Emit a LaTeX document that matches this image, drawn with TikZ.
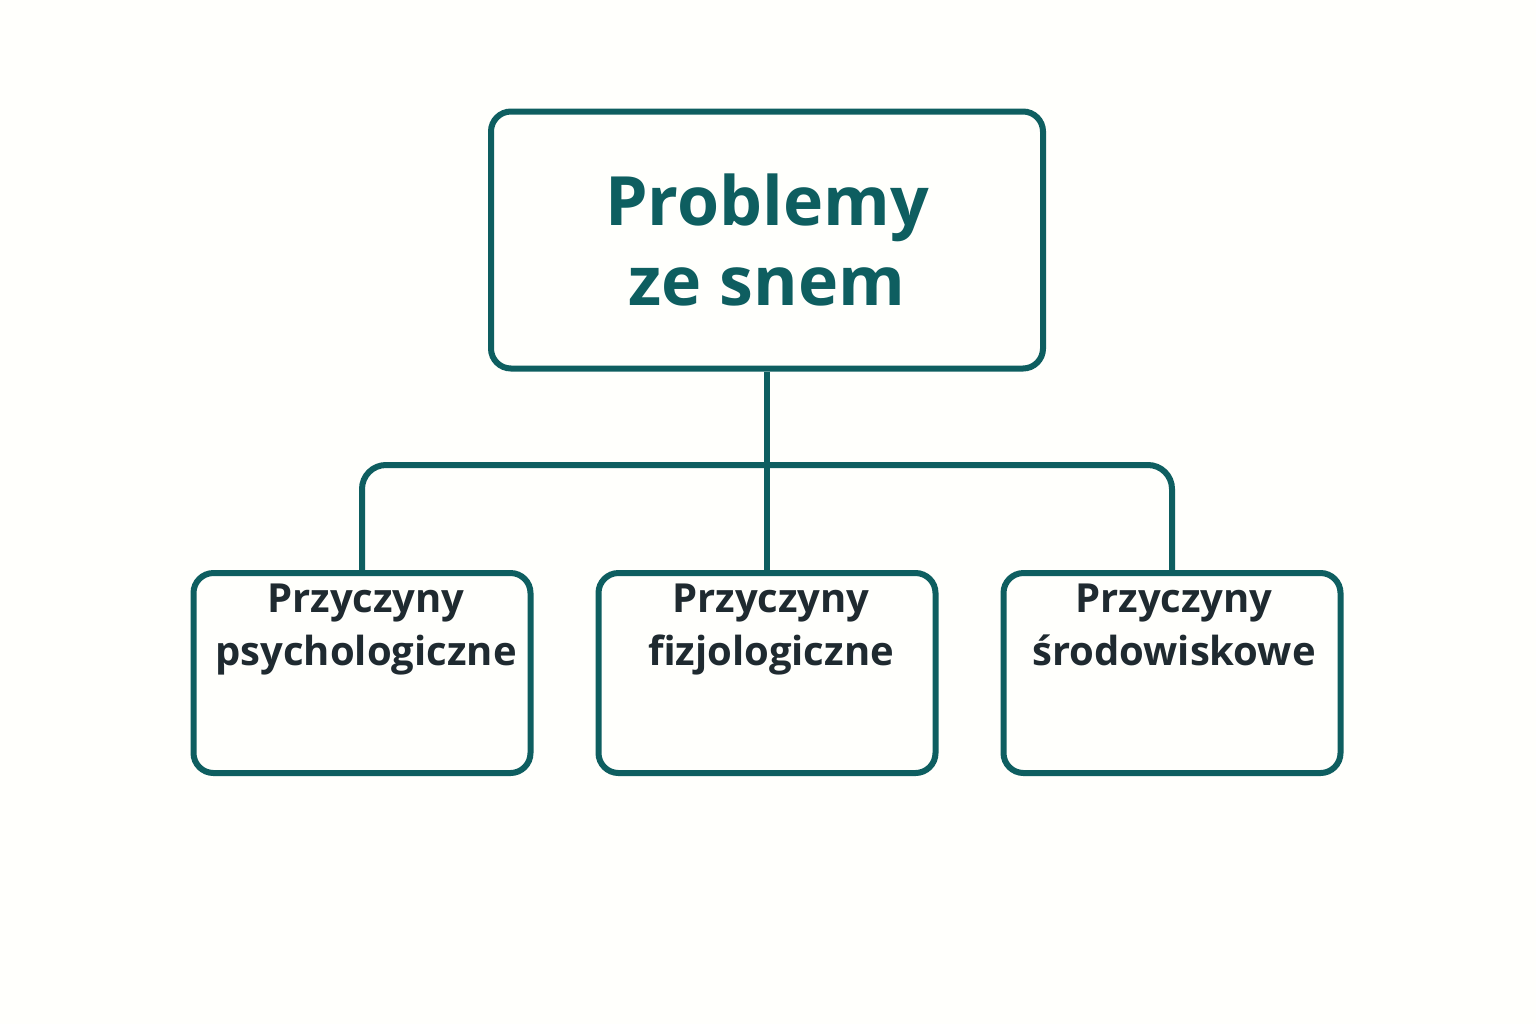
\documentclass[tikz,border=0pt]{standalone}
\usepackage{fontspec}
\setmainfont{Open Sans}
\definecolor{teal1}{HTML}{0E5E60}
\definecolor{txt}{HTML}{1F2A30}
\begin{document}
\begin{tikzpicture}[x=0.5pt,y=-0.5pt,
  box/.style={draw=teal1,line width=3pt,rounded corners=10pt,align=center,inner sep=0pt},
  sub/.style={box,minimum width=168.5pt,minimum height=100pt},
  subtext/.style={align=center,text=txt,font=\fontsize{20}{26.5}\selectfont\bfseries,inner sep=0pt},
  conn/.style={draw=teal1,line width=3pt}]
\fill[white!99!yellow] (0,0) rectangle (1536,1024);
\node[box,minimum width=276pt,minimum height=128.5pt,text=teal1,font=\fontsize{34}{40}\selectfont\bfseries] (top) at (767,240) {Problemy\\ze snem};
\node[sub] (a) at (362,673) {};
\node[sub] (b) at (767,673) {};
\node[sub] (c) at (1172,673) {};
\node[subtext,anchor=base] (at) at (366,665) {Przyczyny\\psychologiczne};
\node[subtext,anchor=base] (bt) at (771,665) {Przyczyny\\fizjologiczne};
\node[subtext,anchor=base] (ct) at (1174,665) {Przyczyny\\środowiskowe};
\coordinate (j) at (767,465);
\draw[conn] (top.south) -- (b.north);
\draw[conn,rounded corners=12pt] (a.north) -- (a.north |- j) -- (c.north |- j) -- (c.north);
\end{tikzpicture}
\end{document}
